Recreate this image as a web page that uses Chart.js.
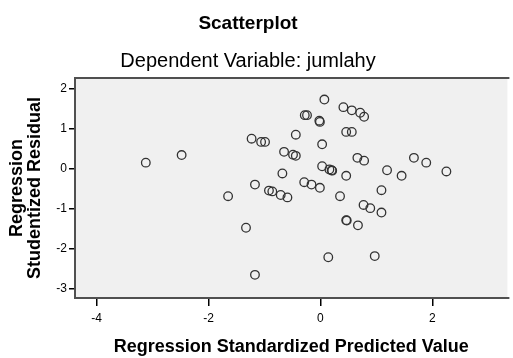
<!DOCTYPE html>
<html>
<head>
<meta charset="utf-8">
<script src="https://cdn.jsdelivr.net/npm/chart.js@4"></script>
<style>
html, body { margin: 0; padding: 0; background: #fff; overflow: hidden; }
#wrap { width: 513px; height: 358px; position: relative; }
</style>
</head>
<body>
<div id="wrap"><canvas id="scatterChart" width="513" height="358"></canvas></div>
<script>
// predicted (x) and studentized residual (y)
var predicted = [-3.12, -2.48, -1.23, -1.06, -0.99, -1.17, -1.65, -1.33, -1.17, -0.92,
  -0.86, -0.68, -0.71, -0.59, -0.65, -0.49, -0.44, -0.44, -0.28, -0.24,
  -0.02, -0.01, 0.07, 0.41, 0.56, 0.71, 0.78, 0.46, 0.56, 0.03,
  0.66, 0.78, 1.67, 1.89, 2.25, 0.03, 0.16, 0.20, 0.21, 0.46,
  1.19, 1.45, -0.29, -0.16, -0.01, 0.35, 1.09, 0.77, 0.89, 1.09,
  0.46, 0.47, 0.67, 0.14, 0.97];
var residual = [0.16, 0.35, 0.76, 0.68, 0.68, -0.39, -0.68, -1.47, -2.65, -0.54,
  -0.56, -0.11, -0.65, -0.71, 0.43, 0.36, 0.33, 0.86, 1.35, 1.35,
  1.21, 1.18, 1.74, 1.55, 1.47, 1.41, 1.31, 0.93, 0.93, 0.62,
  0.28, 0.21, 0.28, 0.16, -0.06, 0.07, -0.01, -0.03, -0.04, -0.17,
  -0.03, -0.17, -0.33, -0.39, -0.47, -0.68, -0.53, -0.90, -0.98, -1.09,
  -1.28, -1.29, -1.41, -2.21, -2.18];
var xTicks = [-4, -2, 0, 2];
var yTicks = [-3, -2, -1, 0, 1, 2];
var titleText = "Scatterplot";
var subtitleText = "Dependent Variable: jumlahy";
var xTitle = "Regression Standardized Predicted Value";
var yTitle = ["Regression", "Studentized Residual"];

var points = predicted.map(function (v, i) { return { x: v, y: residual[i] }; });

// grey plot background, frame and the two title lines
var frame = {
  id: 'frame',
  beforeDatasetsDraw: function (chart) {
    var c = chart.ctx, a = chart.chartArea;
    c.save();
    c.fillStyle = '#f0f0f0';
    c.fillRect(a.left, a.top, a.right - a.left, a.bottom - a.top);
    c.strokeStyle = '#505050';
    c.lineWidth = 2;
    c.beginPath();
    c.moveTo(a.right + 2, a.top);
    c.lineTo(a.left, a.top);
    c.lineTo(a.left, a.bottom);
    c.lineTo(a.right + 2, a.bottom);
    c.stroke();
    c.restore();
  },
  afterDraw: function (chart) {
    var c = chart.ctx;
    c.save();
    c.fillStyle = '#000';
    c.textAlign = 'center';
    c.textBaseline = 'middle';
    c.font = 'bold 19px "Liberation Sans", Arial, sans-serif';
    c.fillText(titleText, 248, 24);
    c.font = '20px "Liberation Sans", Arial, sans-serif';
    c.fillText(subtitleText, 248, 61);
    c.restore();
  }
};

new Chart(document.getElementById('scatterChart').getContext('2d'), {
  type: 'scatter',
  data: {
    datasets: [{
      data: points,
      pointStyle: 'circle',
      pointRadius: 4.3,
      pointHoverRadius: 4.3,
      borderColor: '#333',
      backgroundColor: 'rgba(0,0,0,0)',
      borderWidth: 1.3
    }]
  },
  plugins: [frame],
  options: {
    responsive: false,
    animation: false,
    layout: { padding: { top: 78, left: 0, right: 0, bottom: 0 } },
    plugins: { legend: { display: false }, tooltip: { enabled: false } },
    scales: {
      x: {
        type: 'linear',
        min: -4.385,
        max: 3.34,
        afterFit: function (s) { s.height = 60; },
        afterBuildTicks: function (s) { s.ticks = xTicks.map(function (v) { return { value: v }; }); },
        border: { display: false },
        grid: { drawOnChartArea: false, drawTicks: true, tickLength: 8, color: '#000', lineWidth: 1.5 },
        ticks: { color: '#000', padding: 5, font: { family: '"Liberation Sans", Arial, sans-serif', size: 12 } },
        title: {
          display: true,
          text: xTitle,
          color: '#000',
          padding: { top: 0, bottom: 2 },
          font: { family: '"Liberation Sans", Arial, sans-serif', size: 18, weight: 'bold', lineHeight: 1 }
        }
      },
      y: {
        type: 'linear',
        min: -3.23,
        max: 2.28,
        afterFit: function (s) { s.width = 75; },
        afterBuildTicks: function (s) { s.ticks = yTicks.map(function (v) { return { value: v }; }); },
        border: { display: false },
        grid: { drawOnChartArea: false, drawTicks: true, tickLength: 6, color: '#000', lineWidth: 1.5 },
        ticks: { color: '#000', padding: 2, font: { family: '"Liberation Sans", Arial, sans-serif', size: 12 } },
        title: {
          display: true,
          text: yTitle,
          color: '#000',
          padding: { top: 8, bottom: 0 },
          font: { family: '"Liberation Sans", Arial, sans-serif', size: 18, weight: 'bold', lineHeight: 1 }
        }
      }
    }
  }
});
</script>
</body>
</html>
